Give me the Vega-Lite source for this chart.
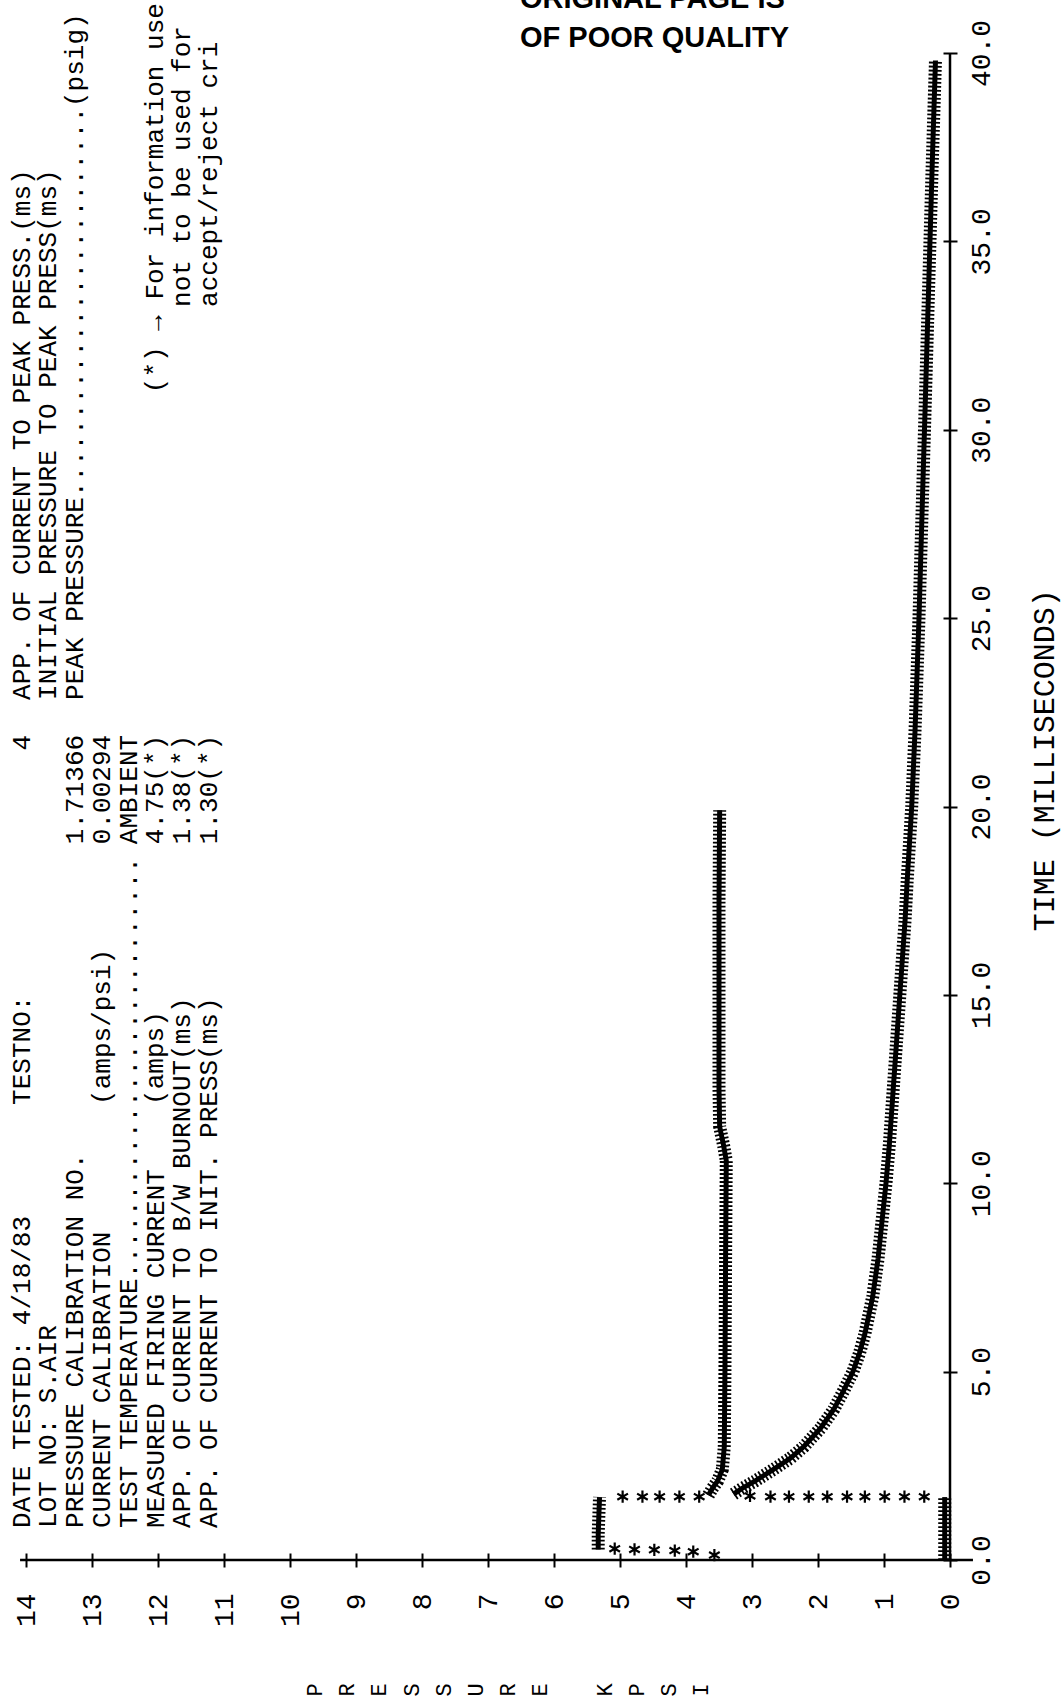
{
  "$schema": "https://vega.github.io/schema/vega-lite/v6.json",
  "width": 924,
  "height": 1507,
  "autosize": {"type": "none"},
  "padding": {"left": 26, "top": 53, "right": 114, "bottom": 145},
  "background": "white",
  "config": {"view": {"stroke": null}, "axis": {"grid": false}, "text": {"font": "Liberation Mono", "fontSize": 26, "lineHeight": 26.8, "color": "black", "angle": 270, "baseline": "top", "align": "left"}},
  "datasets": {
    "dense": [
      {"seg": "A0", "t": 0.28, "p": 5.33}, {"seg": "A0", "t": 0.7, "p": 5.33}, {"seg": "A0", "t": 1.2, "p": 5.32}, {"seg": "A0", "t": 1.67, "p": 5.31},
      {"seg": "A1", "t": 1.72, "p": 3.66}, {"seg": "A1", "t": 1.9, "p": 3.6}, {"seg": "A1", "t": 2.1, "p": 3.52}, {"seg": "A1", "t": 2.4, "p": 3.45},
      {"seg": "A1", "t": 3.0, "p": 3.42}, {"seg": "A1", "t": 5.0, "p": 3.41}, {"seg": "A1", "t": 8.0, "p": 3.4}, {"seg": "A1", "t": 10.6, "p": 3.39},
      {"seg": "A1", "t": 11.0, "p": 3.43}, {"seg": "A1", "t": 11.5, "p": 3.49}, {"seg": "A1", "t": 12.5, "p": 3.5}, {"seg": "A1", "t": 15.0, "p": 3.5},
      {"seg": "A1", "t": 17.5, "p": 3.5}, {"seg": "A1", "t": 19.9, "p": 3.49},
      {"seg": "B0", "t": 0.0, "p": 0.08}, {"seg": "B0", "t": 0.8, "p": 0.08}, {"seg": "B0", "t": 1.67, "p": 0.08},
      {"seg": "B1", "t": 1.75, "p": 3.28}, {"seg": "B1", "t": 1.9, "p": 3.15}, {"seg": "B1", "t": 2.1, "p": 2.95}, {"seg": "B1", "t": 2.4, "p": 2.68},
      {"seg": "B1", "t": 2.7, "p": 2.42}, {"seg": "B1", "t": 3.0, "p": 2.22}, {"seg": "B1", "t": 3.5, "p": 1.96}, {"seg": "B1", "t": 4.0, "p": 1.76},
      {"seg": "B1", "t": 4.5, "p": 1.61}, {"seg": "B1", "t": 5.0, "p": 1.47}, {"seg": "B1", "t": 5.5, "p": 1.37}, {"seg": "B1", "t": 6.0, "p": 1.29},
      {"seg": "B1", "t": 7.0, "p": 1.17}, {"seg": "B1", "t": 8.0, "p": 1.09}, {"seg": "B1", "t": 9.0, "p": 1.03}, {"seg": "B1", "t": 10.0, "p": 0.97},
      {"seg": "B1", "t": 11.0, "p": 0.92}, {"seg": "B1", "t": 12.0, "p": 0.88}, {"seg": "B1", "t": 13.0, "p": 0.84}, {"seg": "B1", "t": 14.0, "p": 0.8},
      {"seg": "B1", "t": 15.0, "p": 0.76}, {"seg": "B1", "t": 16.0, "p": 0.72}, {"seg": "B1", "t": 17.0, "p": 0.68}, {"seg": "B1", "t": 18.0, "p": 0.65},
      {"seg": "B1", "t": 20.0, "p": 0.58}, {"seg": "B1", "t": 22.0, "p": 0.53}, {"seg": "B1", "t": 25.0, "p": 0.47}, {"seg": "B1", "t": 28.0, "p": 0.42},
      {"seg": "B1", "t": 31.0, "p": 0.37}, {"seg": "B1", "t": 34.0, "p": 0.32}, {"seg": "B1", "t": 37.0, "p": 0.27}, {"seg": "B1", "t": 39.8, "p": 0.22}
    ],
    "sparse": [
      {"t": 0.13, "p": 3.57}, {"t": 0.22, "p": 3.89}, {"t": 0.25, "p": 4.17}, {"t": 0.27, "p": 4.48}, {"t": 0.28, "p": 4.78}, {"t": 0.3, "p": 5.08},
      {"t": 1.68, "p": 4.96}, {"t": 1.68, "p": 4.66}, {"t": 1.68, "p": 4.4}, {"t": 1.68, "p": 4.1}, {"t": 1.68, "p": 3.8},
      {"t": 1.68, "p": 0.39}, {"t": 1.68, "p": 0.69}, {"t": 1.68, "p": 0.99}, {"t": 1.68, "p": 1.29}, {"t": 1.68, "p": 1.56},
      {"t": 1.68, "p": 1.86}, {"t": 1.68, "p": 2.14}, {"t": 1.68, "p": 2.44}, {"t": 1.68, "p": 2.72}, {"t": 1.7, "p": 3.03}
    ]
  },
  "layer": [
    {
      "data": {"name": "dense"},
      "mark": {"type": "line", "stroke": "black", "strokeWidth": 5, "strokeCap": "butt"},
      "encoding": {
        "x": {"field": "p", "type": "quantitative", "scale": {"domain": [0, 14], "reverse": true, "nice": false, "zero": false},
          "axis": {"title": null, "orient": "bottom", "values": [0,1,2,3,4,5,6,7,8,9,10,11,12,13,14], "format": "d",
            "offset": -7, "tickSize": 14, "tickWidth": 2, "tickColor": "black", "domain": false,
            "labelAngle": 270, "labelAlign": "right", "labelBaseline": "middle", "labelPadding": 26,
            "labelFont": "Liberation Mono", "labelFontSize": 28, "labelColor": "black", "labelFlush": false, "labelOverlap": false}},
        "y": {"field": "t", "type": "quantitative", "scale": {"domain": [0, 40], "nice": false, "zero": false},
          "axis": {"title": null, "orient": "right", "values": [0,5,10,15,20,25,30,35,40], "format": ".1f",
            "offset": -7, "tickSize": 14, "tickWidth": 2, "tickColor": "black", "domain": false,
            "labelAngle": 270, "labelAlign": "center", "labelBaseline": "top", "labelPadding": 10,
            "labelFont": "Liberation Mono", "labelFontSize": 28, "labelColor": "black", "labelFlush": false, "labelOverlap": false}},
        "detail": {"field": "seg"},
        "order": {"field": "t", "type": "quantitative"}
      }
    },
    {
      "data": {"name": "dense"},
      "mark": {"type": "line", "stroke": "black", "strokeWidth": 13, "strokeDash": [1.8, 2.2], "strokeCap": "butt"},
      "encoding": {
        "x": {"field": "p", "type": "quantitative", "scale": {"domain": [0, 14], "reverse": true, "nice": false, "zero": false}},
        "y": {"field": "t", "type": "quantitative", "scale": {"domain": [0, 40], "nice": false, "zero": false}},
        "detail": {"field": "seg"},
        "order": {"field": "t", "type": "quantitative"}
      }
    },
    {
      "data": {"name": "sparse"},
      "mark": {"type": "point", "shape": "M0,-1L0,1M-0.87,-0.5L0.87,0.5M-0.87,0.5L0.87,-0.5", "size": 150, "filled": false, "stroke": "black", "strokeWidth": 2.2, "opacity": 1},
      "encoding": {
        "x": {"field": "p", "type": "quantitative", "scale": {"domain": [0, 14], "reverse": true, "nice": false, "zero": false}},
        "y": {"field": "t", "type": "quantitative", "scale": {"domain": [0, 40], "nice": false, "zero": false}}
      }
    },
    {
      "data": {"values": [{}]},
      "mark": {"type": "rule", "stroke": "black", "strokeWidth": 2.5},
      "encoding": {
        "x": {"datum": 14.09, "type": "quantitative", "scale": {"domain": [0, 14], "reverse": true, "nice": false, "zero": false}},
        "x2": {"datum": -0.348},
        "y": {"datum": 0, "type": "quantitative", "scale": {"domain": [0, 40], "nice": false, "zero": false}}
      }
    },
    {
      "data": {"values": [{}]},
      "mark": {"type": "rule", "stroke": "black", "strokeWidth": 2.5},
      "encoding": {
        "x": {"datum": 0, "type": "quantitative", "scale": {"domain": [0, 14], "reverse": true, "nice": false, "zero": false}},
        "y": {"datum": 0, "type": "quantitative", "scale": {"domain": [0, 40], "nice": false, "zero": false}},
        "y2": {"datum": 40}
      }
    },
    {
      "data": {"values": [{}]},
      "mark": {"type": "text",
        "text": ["DATE TESTED: 4/18/83", "LOT NO:  S.AIR", "PRESSURE CALIBRATION NO.", "CURRENT CALIBRATION", "TEST TEMPERATURE...........................", "MEASURED FIRING CURRENT", "APP. OF CURRENT TO B/W BURNOUT(ms)", "APP. OF CURRENT TO INIT. PRESS(ms)"]},
      "encoding": {
        "x": {"datum": 14.265, "type": "quantitative", "scale": {"domain": [0, 14], "reverse": true, "nice": false, "zero": false}},
        "y": {"datum": 0.85, "type": "quantitative", "scale": {"domain": [0, 40], "nice": false, "zero": false}}
      }
    },
    {
      "data": {"values": [{}]},
      "mark": {"type": "text", "text": "TESTNO:"},
      "encoding": {
        "x": {"datum": 14.265, "type": "quantitative", "scale": {"domain": [0, 14], "reverse": true, "nice": false, "zero": false}},
        "y": {"datum": 12.08, "type": "quantitative", "scale": {"domain": [0, 40], "nice": false, "zero": false}}
      }
    },
    {
      "data": {"values": [{}]},
      "mark": {"type": "text", "text": "(amps/psi)"},
      "encoding": {
        "x": {"datum": 13.047, "type": "quantitative", "scale": {"domain": [0, 14], "reverse": true, "nice": false, "zero": false}},
        "y": {"datum": 12.08, "type": "quantitative", "scale": {"domain": [0, 40], "nice": false, "zero": false}}
      }
    },
    {
      "data": {"values": [{}]},
      "mark": {"type": "text", "text": "(amps)"},
      "encoding": {
        "x": {"datum": 12.235, "type": "quantitative", "scale": {"domain": [0, 14], "reverse": true, "nice": false, "zero": false}},
        "y": {"datum": 12.08, "type": "quantitative", "scale": {"domain": [0, 40], "nice": false, "zero": false}}
      }
    },
    {
      "data": {"values": [{}]},
      "mark": {"type": "text", "align": "right", "text": "4"},
      "encoding": {
        "x": {"datum": 14.265, "type": "quantitative", "scale": {"domain": [0, 14], "reverse": true, "nice": false, "zero": false}},
        "y": {"datum": 21.9, "type": "quantitative", "scale": {"domain": [0, 40], "nice": false, "zero": false}}
      }
    },
    {
      "data": {"values": [{}]},
      "mark": {"type": "text", "align": "right", "text": ["1.71366", "0.00294", "AMBIENT", "4.75(*)", "1.38(*)", "1.30(*)"]},
      "encoding": {
        "x": {"datum": 13.453, "type": "quantitative", "scale": {"domain": [0, 14], "reverse": true, "nice": false, "zero": false}},
        "y": {"datum": 21.9, "type": "quantitative", "scale": {"domain": [0, 40], "nice": false, "zero": false}}
      }
    },
    {
      "data": {"values": [{}]},
      "mark": {"type": "text", "text": ["APP. OF CURRENT TO PEAK PRESS.(ms)", "INITIAL PRESSURE TO PEAK PRESS(ms)", "PEAK PRESSURE.........................(psig)"]},
      "encoding": {
        "x": {"datum": 14.265, "type": "quantitative", "scale": {"domain": [0, 14], "reverse": true, "nice": false, "zero": false}},
        "y": {"datum": 22.83, "type": "quantitative", "scale": {"domain": [0, 40], "nice": false, "zero": false}}
      }
    },
    {
      "data": {"values": [{}]},
      "mark": {"type": "text", "text": "(*) → For information use"},
      "encoding": {
        "x": {"datum": 12.235, "type": "quantitative", "scale": {"domain": [0, 14], "reverse": true, "nice": false, "zero": false}},
        "y": {"datum": 30.97, "type": "quantitative", "scale": {"domain": [0, 40], "nice": false, "zero": false}}
      }
    },
    {
      "data": {"values": [{}]},
      "mark": {"type": "text", "text": ["not to be used for", "accept/reject cri"]},
      "encoding": {
        "x": {"datum": 11.829, "type": "quantitative", "scale": {"domain": [0, 14], "reverse": true, "nice": false, "zero": false}},
        "y": {"datum": 33.26, "type": "quantitative", "scale": {"domain": [0, 40], "nice": false, "zero": false}}
      }
    },
    {
      "data": {"values": [{}]},
      "mark": {"type": "text", "align": "center", "fontSize": 30, "text": "TIME (MILLISECONDS)"},
      "encoding": {
        "x": {"datum": -1.212, "type": "quantitative", "scale": {"domain": [0, 14], "reverse": true, "nice": false, "zero": false}},
        "y": {"datum": 21.23, "type": "quantitative", "scale": {"domain": [0, 40], "nice": false, "zero": false}}
      }
    },
    {
      "data": {"values": [{}]},
      "mark": {"type": "text", "align": "center", "baseline": "middle", "fontSize": 22, "lineHeight": 32.2, "text": ["P", "R", "E", "S", "S", "U", "R", "E"]},
      "encoding": {
        "x": {"datum": 9.621, "type": "quantitative", "scale": {"domain": [0, 14], "reverse": true, "nice": false, "zero": false}},
        "y": {"datum": -3.45, "type": "quantitative", "scale": {"domain": [0, 40], "nice": false, "zero": false}}
      }
    },
    {
      "data": {"values": [{}]},
      "mark": {"type": "text", "align": "center", "baseline": "middle", "fontSize": 22, "lineHeight": 32.2, "text": ["K", "P", "S", "I"]},
      "encoding": {
        "x": {"datum": 5.23, "type": "quantitative", "scale": {"domain": [0, 14], "reverse": true, "nice": false, "zero": false}},
        "y": {"datum": -3.45, "type": "quantitative", "scale": {"domain": [0, 40], "nice": false, "zero": false}}
      }
    },
    {
      "data": {"values": [{}]},
      "mark": {"type": "text", "angle": 0, "align": "left", "baseline": "alphabetic", "font": "Liberation Sans", "fontWeight": "bold", "fontSize": 29, "text": "OF POOR QUALITY"},
      "encoding": {
        "x": {"datum": 6.515, "type": "quantitative", "scale": {"domain": [0, 14], "reverse": true, "nice": false, "zero": false}},
        "y": {"datum": 40.16, "type": "quantitative", "scale": {"domain": [0, 40], "nice": false, "zero": false}}
      }
    },
    {
      "data": {"values": [{}]},
      "mark": {"type": "text", "angle": 0, "align": "left", "baseline": "alphabetic", "font": "Liberation Sans", "fontWeight": "bold", "fontSize": 29, "text": "ORIGINAL PAGE IS"},
      "encoding": {
        "x": {"datum": 6.515, "type": "quantitative", "scale": {"domain": [0, 14], "reverse": true, "nice": false, "zero": false}},
        "y": {"datum": 41.2, "type": "quantitative", "scale": {"domain": [0, 40], "nice": false, "zero": false}}
      }
    }
  ]
}
